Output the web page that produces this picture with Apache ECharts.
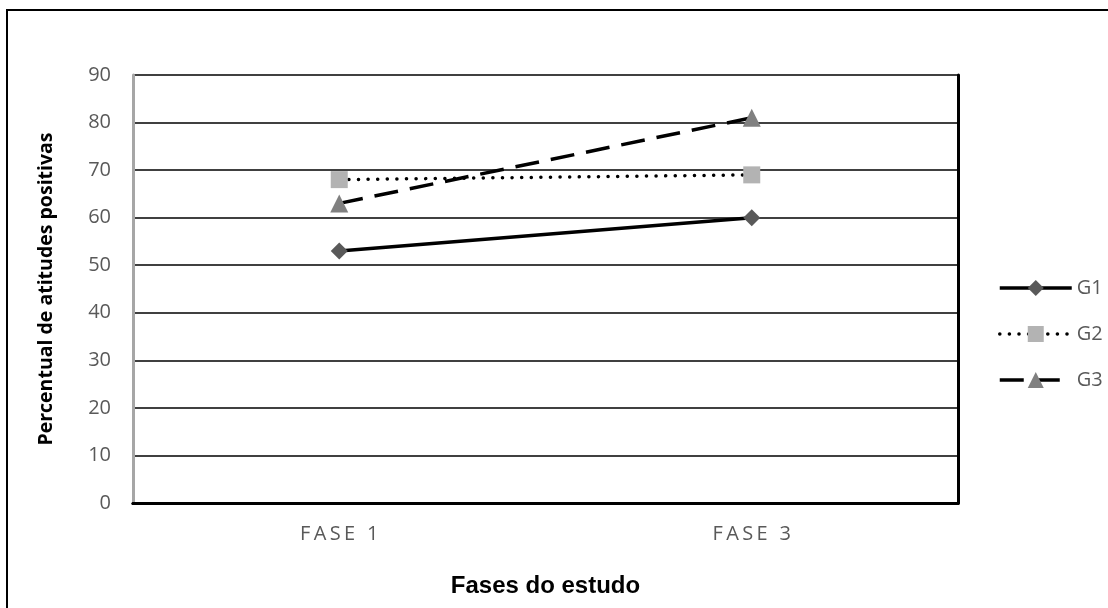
<!DOCTYPE html>
<html>
<head>
<meta charset="utf-8">
<script src="https://cdn.jsdelivr.net/npm/echarts@6/dist/echarts.min.js"></script>
<style>html,body{margin:0;padding:0;background:#fff;}#c{width:1108px;height:608px;}</style>
</head>
<body>
<div id="c"></div>
<script>
const categories = ['FASE 1', 'FASE 3'];
const g1 = [53, 60];
const g2 = [68, 69];
const g3 = [63, 81];
const seriesNames = ['G1', 'G2', 'G3'];
const yTicks = {min: 0, max: 90, interval: 10};

const chart = echarts.init(document.getElementById('c'), null, {renderer: 'canvas'});
const spaced = v => v.split('').join('\u2009');
chart.setOption({
  animation: false,
  backgroundColor: '#fff',
  grid: {left: 133, right: 150, top: 75, bottom: 105, containLabel: false},
  graphic: [{
    type: 'rect', z: 100, silent: true,
    shape: {x: 7, y: 10, width: 1300, height: 800},
    style: {fill: 'none', stroke: '#000', lineWidth: 2}
  }],
  xAxis: [{
    type: 'category', data: categories, boundaryGap: true,
    axisLine: {show: true, lineStyle: {color: '#000', width: 3}},
    axisTick: {show: false},
    axisLabel: {formatter: spaced, color: '#595959', fontSize: 20, fontFamily: 'Open Sans', margin: 21},
    name: 'Fases do estudo', nameLocation: 'middle', nameGap: 71,
    nameTextStyle: {fontFamily: 'Liberation Sans', fontWeight: 'bold', fontSize: 24, color: '#000'}
  }, {
    type: 'category', data: categories, position: 'top',
    axisLine: {show: true, lineStyle: {color: '#000', width: 3}},
    axisTick: {show: false}, axisLabel: {show: false}, splitLine: {show: false}
  }],
  yAxis: [{
    type: 'value', min: yTicks.min, max: yTicks.max, interval: yTicks.interval,
    axisLine: {show: true, lineStyle: {color: '#a6a6a6', width: 3}},
    axisTick: {show: false},
    splitLine: {show: true, lineStyle: {color: '#000', width: 1.5}},
    axisLabel: {color: '#595959', fontSize: 20, fontFamily: 'Open Sans', margin: 22},
    name: 'Percentual de atitudes positivas', nameLocation: 'middle', nameGap: 77,
    nameTextStyle: {fontFamily: 'Open Sans', fontWeight: 'bold', fontSize: 19.5, color: '#000'}
  }, {
    type: 'value', min: yTicks.min, max: yTicks.max, interval: yTicks.interval, position: 'right',
    axisLine: {show: true, lineStyle: {color: '#000', width: 3}},
    axisTick: {show: false}, axisLabel: {show: false}, splitLine: {show: false}
  }],
  legend: {
    orient: 'vertical', left: 993, top: 273, itemGap: 26,
    itemWidth: 72, itemHeight: 20,
    lineStyle: {width: 3.5},
    textStyle: {color: '#595959', fontSize: 20, fontFamily: 'Open Sans', padding: [0, 0, 0, 0]},
    data: seriesNames
  },
  series: [{
    name: seriesNames[0], type: 'line', data: g1,
    symbol: 'diamond', symbolSize: 17,
    lineStyle: {color: '#000', width: 3.5},
    itemStyle: {color: '#595959', borderWidth: 0}
  }, {
    name: seriesNames[1], type: 'line', data: g2,
    symbol: 'rect', symbolSize: 17,
    lineStyle: {color: '#000', width: 3.5, type: [0.1, 9.5], cap: 'round'},
    itemStyle: {color: '#b3b3b3', borderWidth: 0}
  }, {
    name: seriesNames[2], type: 'line', data: g3,
    symbol: 'triangle', symbolSize: 18,
    lineStyle: {color: '#000', width: 3.5, type: [24, 12]},
    itemStyle: {color: '#808080', borderWidth: 0}
  }]
});
</script>
</body>
</html>
